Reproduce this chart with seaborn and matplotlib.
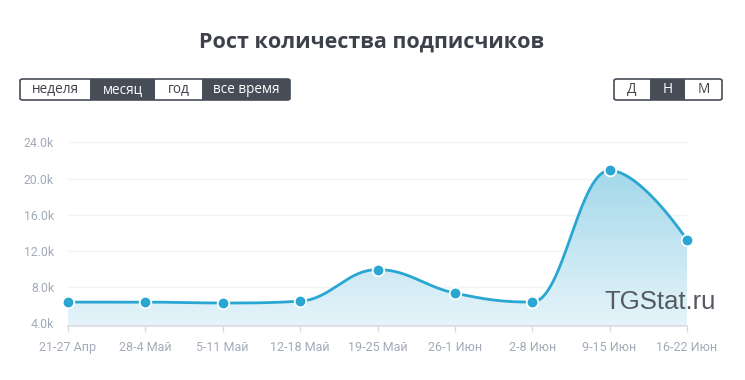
import numpy as np
import pandas as pd
import matplotlib
matplotlib.use("Agg")
import matplotlib.pyplot as plt
import seaborn as sns
from matplotlib.patches import FancyBboxPatch, Rectangle
from matplotlib.path import Path
from matplotlib.patches import PathPatch

# données
weeks = ["21-27 Апр", "28-4 Май", "5-11 Май", "12-18 Май", "19-25 Май",
         "26-1 Июн", "2-8 Июн", "9-15 Июн", "16-22 Июн"]
subscribers = [6.3, 6.3, 6.2, 6.4, 9.9, 7.3, 6.3, 20.9, 13.2]  # en milliers
yticks = [4, 8, 12, 16, 20, 24]
period_buttons = ["неделя", "месяц", "год", "все время"]
scale_buttons = ["Д", "Н", "М"]

LINE = "#29a6d1"
DARK = "#474d57"
TICK = "#a3abb8"


def spline(xs, ys, smoothing=1.5, n=60):
    # courbe lissée façon "spline" (Bezier entre les points)
    xs = np.asarray(xs, float)
    ys = np.asarray(ys, float)
    m = len(xs)
    lc = [(xs[i], ys[i]) for i in range(m)]
    rc = [(xs[i], ys[i]) for i in range(m)]
    d = smoothing + 1
    for i in range(1, m - 1):
        px, py = xs[i], ys[i]
        lx, ly = xs[i - 1], ys[i - 1]
        nx, ny = xs[i + 1], ys[i + 1]
        lcx = (smoothing * px + lx) / d
        lcy = (smoothing * py + ly) / d
        rcx = (smoothing * px + nx) / d
        rcy = (smoothing * py + ny) / d
        corr = ((rcy - lcy) * (rcx - px)) / (rcx - lcx) + py - rcy
        lcy += corr
        rcy += corr
        if lcy > ly and lcy > py:
            lcy = max(ly, py); rcy = 2 * py - lcy
        elif lcy < ly and lcy < py:
            lcy = min(ly, py); rcy = 2 * py - lcy
        if rcy > ny and rcy > py:
            rcy = max(ny, py); lcy = 2 * py - rcy
        elif rcy < ny and rcy < py:
            rcy = min(ny, py); lcy = 2 * py - rcy
        lc[i] = (lcx, lcy)
        rc[i] = (rcx, rcy)
    t = np.linspace(0, 1, n)[:, None]
    out = []
    for i in range(m - 1):
        p0 = np.array([xs[i], ys[i]])
        p1 = np.array(rc[i])
        p2 = np.array(lc[i + 1])
        p3 = np.array([xs[i + 1], ys[i + 1]])
        seg = ((1 - t) ** 3) * p0 + 3 * ((1 - t) ** 2) * t * p1 + 3 * (1 - t) * t ** 2 * p2 + t ** 3 * p3
        out.append(seg if i == 0 else seg[1:])
    out = np.vstack(out)
    return out[:, 0], out[:, 1]


sns.set_theme(style="white")
plt.rcParams["font.family"] = ["Open Sans", "DejaVu Sans"]

W, H = 745, 380
fig = plt.figure(figsize=(W / 100, H / 100), dpi=100)

def fx(px):
    return px / W

def fy(py):
    return 1 - py / H

ax = fig.add_axes([fx(68), fy(326), fx(687) - fx(68), fy(142) - fy(326)])
ymin, ymax = 3.65, 24.05
ax.set_xlim(0, len(weeks) - 1)
ax.set_ylim(ymin, ymax)

x = np.arange(len(weeks))
cx, cy = spline(x, subscribers)

# remplissage en dégradé
verts = np.vstack([[cx[0], ymin], np.column_stack([cx, cy]), [cx[-1], ymin]])
clip = PathPatch(Path(verts), facecolor="none", edgecolor="none")
ax.add_patch(clip)
top = np.array(matplotlib.colors.to_rgb("#a3d8ea"))
bot = np.array(matplotlib.colors.to_rgb("#e6f4fa"))
grad = np.linspace(0, 1, 256)[:, None]
img = (bot * (1 - grad) + top * grad)[:, None, :].repeat(2, axis=1)
im = ax.imshow(img, extent=[0, len(weeks) - 1, ymin, max(subscribers)], origin="lower",
               aspect="auto", zorder=1)
im.set_clip_path(clip)
ax.set_xlim(0, len(weeks) - 1)
ax.set_ylim(ymin, ymax)

curve = pd.DataFrame({"x": cx, "y": cy})
sns.lineplot(data=curve, x="x", y="y", ax=ax, color=LINE, linewidth=2, zorder=3,
             sort=False)
pts = pd.DataFrame({"x": x, "y": subscribers})
sns.scatterplot(data=pts, x="x", y="y", ax=ax, color=LINE, s=70, edgecolor="white",
                linewidth=1.3, zorder=4, clip_on=False)

ax.set_yticks(yticks)
ax.set_yticklabels([f"{v:.1f}k" for v in yticks])
ax.set_xticks(x)
ax.set_xticklabels(weeks)
ax.set_xlabel("")
ax.set_ylabel("")
for v in yticks:
    ax.axhline(v, color="#f2f3f5", linewidth=1, zorder=0)
for s in ["top", "right", "left"]:
    ax.spines[s].set_visible(False)
ax.spines["bottom"].set_color("#d8dce2")
ax.spines["bottom"].set_linewidth(1.2)
ax.tick_params(axis="x", length=4.5, width=1, color="#d8dce2", pad=6,
               labelsize=9, labelcolor=TICK, bottom=True)
ax.tick_params(axis="y", length=0, pad=10, labelsize=8.8, labelcolor=TICK)
for lbl in ax.get_xticklabels() + ax.get_yticklabels():
    lbl.set_fontfamily(["Roboto", "DejaVu Sans"])

# titre
fig.text(fx(372), fy(42), "Рост количества подписчиков", ha="center", va="center",
         fontsize=15.5, fontweight="bold", color="#3d4149")

# filigrane
fig.text(fx(660), fy(302), "TGStat.ru", ha="center", va="center", fontsize=18.5,
         color="#555a60", family=["Liberation Sans", "DejaVu Sans"])

# boutons
def buttons(labels, edges, dark, y0=79, y1=100):
    for lab, (a, b), d in zip(labels, edges, dark):
        r = Rectangle((fx(a), fy(y1)), fx(b) - fx(a), fy(y0) - fy(y1),
                      transform=fig.transFigure, facecolor=DARK if d else "white",
                      edgecolor="none")
        fig.add_artist(r)
        fig.text(fx((a + b) / 2), fy((y0 + y1) / 2), lab, ha="center", va="center",
                 fontsize=9.8, color="white" if d else "#3d4149")
    a0, b0 = edges[0][0], edges[-1][1]
    box = FancyBboxPatch((fx(a0), fy(y1)), fx(b0) - fx(a0), fy(y0) - fy(y1),
                         boxstyle="round,pad=0,rounding_size=0.004",
                         transform=fig.transFigure, facecolor="none",
                         edgecolor=DARK, linewidth=1.2)
    fig.add_artist(box)

buttons(period_buttons, [(20, 90), (90, 155), (155, 202), (202, 290)],
        [False, True, False, True])
buttons(scale_buttons, [(614, 650), (650, 685), (685, 722)], [False, True, False])

fig.savefig("out.png", dpi=100)
